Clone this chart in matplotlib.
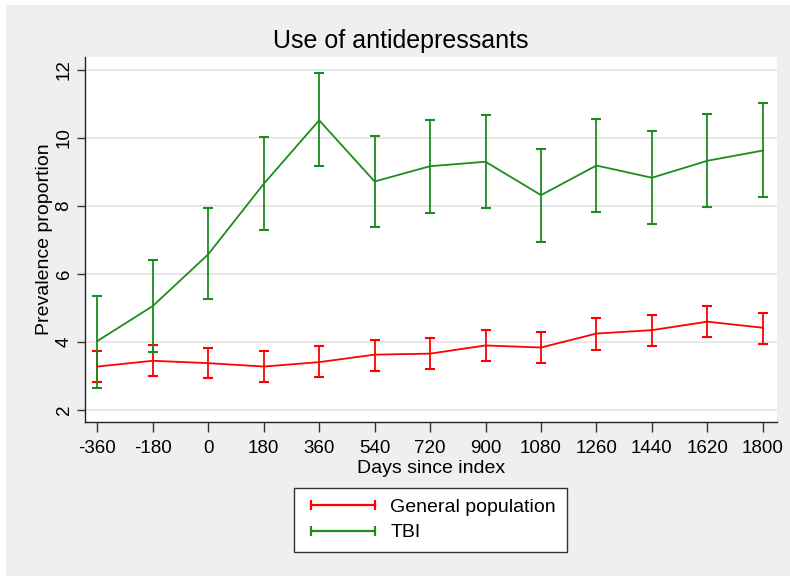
import matplotlib
matplotlib.use('Agg')
import matplotlib.pyplot as plt
from matplotlib.lines import Line2D
from matplotlib.patches import Rectangle

days = [-360, -180, 0, 180, 360, 540, 720, 900, 1080, 1260, 1440, 1620, 1800]

# general population: estimate and 95% CI
gen_est = [3.28, 3.45, 3.38, 3.28, 3.41, 3.63, 3.66, 3.90, 3.84, 4.25, 4.35, 4.60, 4.42]
gen_lo = [2.83, 3.00, 2.93, 2.83, 2.96, 3.16, 3.20, 3.44, 3.38, 3.78, 3.89, 4.15, 3.95]
gen_hi = [3.74, 3.90, 3.84, 3.74, 3.87, 4.07, 4.11, 4.34, 4.29, 4.70, 4.80, 5.06, 4.86]

# TBI: estimate and 95% CI
tbi_est = [4.03, 5.06, 6.58, 8.65, 10.52, 8.72, 9.17, 9.30, 8.32, 9.19, 8.83, 9.33, 9.63]
tbi_lo = [2.66, 3.71, 5.26, 7.30, 9.18, 7.38, 7.80, 7.95, 6.95, 7.82, 7.46, 7.97, 8.27]
tbi_hi = [5.35, 6.40, 7.94, 10.03, 11.90, 10.07, 10.53, 10.67, 9.67, 10.57, 10.20, 10.71, 11.02]

series_names = ['General population', 'TBI']
colors = ['#ff0000', '#1c8c1c']

plt.rcParams['font.family'] = ['Liberation Sans', 'DejaVu Sans']

fig = plt.figure(figsize=(7.9, 5.76), dpi=100)
fig.patch.set_facecolor('white')
fig.patches.append(Rectangle((6 / 790, 0), 1, 1 - 5 / 576, transform=fig.transFigure,
                             facecolor='#efefef', edgecolor='none', zorder=-10))

ax = fig.add_axes([85 / 790, 1 - 422 / 576, (777 - 85) / 790, (422 - 57) / 576])
ax.set_facecolor('white')

for est, lo, hi, col in [(gen_est, gen_lo, gen_hi, colors[0]),
                         (tbi_est, tbi_lo, tbi_hi, colors[1])]:
    yerr = [[e - l for e, l in zip(est, lo)], [h - e for e, h in zip(est, hi)]]
    ax.errorbar(days, est, yerr=yerr, color=col, lw=1.3, elinewidth=1.3,
                capsize=3.4, capthick=1.5, zorder=3)

ax.set_xlim(-400, 1846)
ax.set_ylim(1.65, 12.38)
ax.set_xticks(days)
ax.set_xticklabels([str(d) for d in days])
ax.set_yticks([2, 4, 6, 8, 10, 12])
ax.tick_params(axis='x', labelsize=13.5, length=7, width=1, pad=6, color='#333333')
ax.tick_params(axis='y', labelsize=13.5, length=6, width=1, pad=3, labelrotation=90,
               color='#333333')
for lab in ax.get_yticklabels():
    lab.set_va('center')
ax.grid(axis='y', color='#e8e8e8', lw=1.5)
ax.set_axisbelow(True)
for s in ['top', 'right']:
    ax.spines[s].set_visible(False)
for s in ['left', 'bottom']:
    ax.spines[s].set_color('#222222')
    ax.spines[s].set_linewidth(1)

ax.set_xlabel('Days since index', fontsize=14, labelpad=2)
ax.set_ylabel('Prevalence proportion', fontsize=14, labelpad=2)
fig.text(401 / 790, 1 - 41 / 576, 'Use of antidepressants', fontsize=18,
         ha='center', va='center')

handles = [Line2D([], [], color=c, lw=1.6, marker='|', markersize=7, mew=1.6)
           for c in colors]
leg = fig.legend(handles, series_names, loc='upper center',
                 bbox_to_anchor=(430.5 / 790, 1 - 487.7 / 576), numpoints=2,
                 fontsize=14, handlelength=3.9, handletextpad=0.5,
                 labelspacing=0.4, borderpad=0.55, borderaxespad=0,
                 fancybox=False, framealpha=1, edgecolor='#333333')
leg.get_frame().set_linewidth(1)

fig.savefig('out.png', dpi=100, facecolor=fig.get_facecolor())
